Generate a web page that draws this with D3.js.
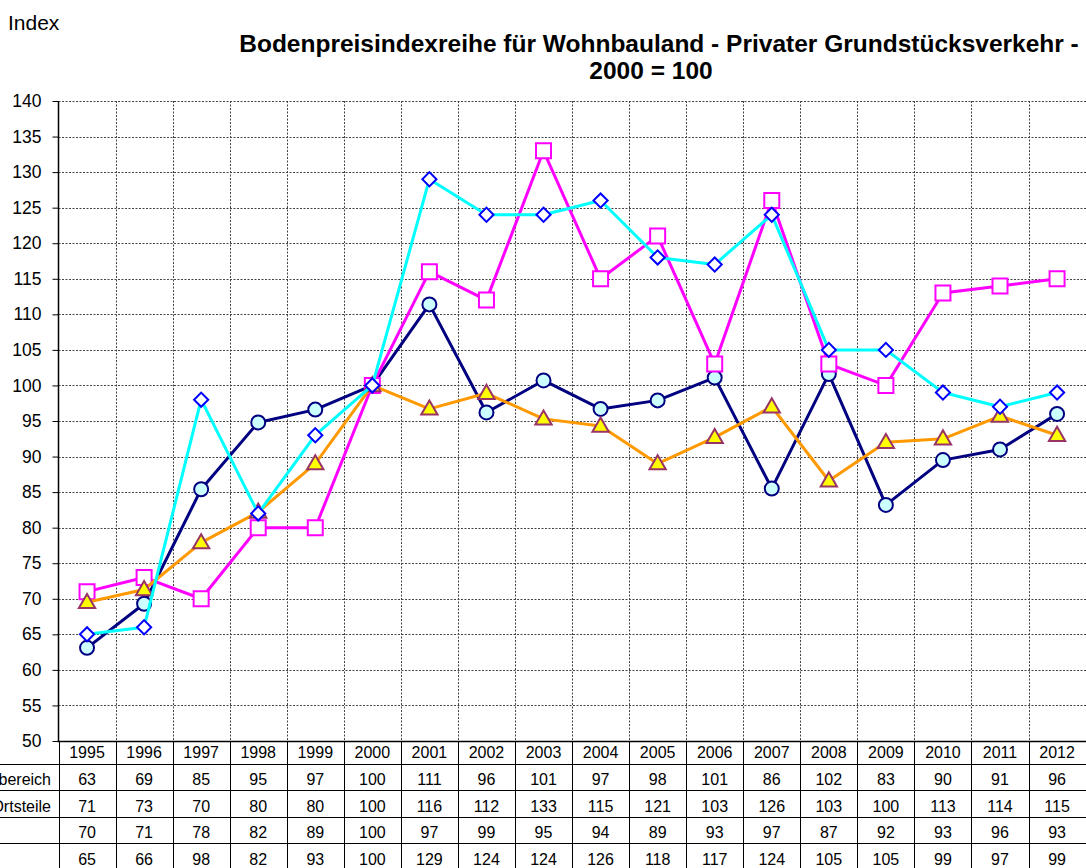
<!DOCTYPE html>
<html lang="de">
<head>
<meta charset="utf-8">
<title>Bodenpreisindexreihe</title>
<script src="https://d3js.org/d3.v7.min.js"></script>
<style>
  body { margin: 0; background: #fff; }
  svg { display: block; font-family: "Liberation Sans", Arial, sans-serif; }
  .cell { font-size: 16px; }
</style>
</head>
<body>
<div id="chart"></div>
<script>
// data
const years = ["1995","1996","1997","1998","1999","2000","2001","2002","2003","2004","2005","2006","2007","2008","2009","2010","2011","2012"];
const gesamt   = [63.1, 69.3, 85.4, 94.8, 96.6, 100, 111.4, 96.2, 100.7, 96.7, 97.9, 101.1, 85.5, 101.6, 83.2, 89.5, 91, 96];
const ortsteile = [71, 73, 70, 80, 80, 100, 116, 112, 133, 115, 121, 103, 126, 103, 100, 113, 114, 115];
const reihe3   = [69.5, 71.3, 77.9, 82.2, 89, 100, 96.7, 98.9, 95.3, 94.3, 89, 92.7, 97, 86.6, 92, 92.5, 95.7, 93];
const reihe4   = [65, 66, 98, 82, 93, 100, 129, 124, 124, 126, 118, 117, 124, 105, 105, 99, 97, 99];
const yTicks = d3.range(50, 141, 5);

const series = [
  {name: "Gesamtbereich", values: gesamt, line: "#000080", marker: "circle", fill: "#CCFFFF", stroke: "#000080"},
  {name: "Ortsteile", values: ortsteile, line: "#FF00FF", marker: "square", fill: "#FFFFFF", stroke: "#FF00FF"},
  {name: "", values: reihe3, line: "#FF9900", marker: "triangle", fill: "#FFFF00", stroke: "#993366"},
  {name: "", values: reihe4, line: "#00FFFF", marker: "diamond", fill: "#FFFFFF", stroke: "#0000FF"}
];

const width = 1086, height = 868;
const plotLeft = 58.5, plotRight = 1085.6, plotTop = 101, plotBottom = 741;
const rowTop = 763.5, rowH = 26.6;

const svg = d3.select("#chart").append("svg")
  .attr("width", width).attr("height", height);

const x = d3.scaleBand().domain(years).range([plotLeft, plotRight]);
const y = d3.scaleLinear().domain([50, 140]).range([plotBottom, plotTop]);
const cx = i => x(years[i]) + x.bandwidth() / 2;

// gridlines
const grid = svg.append("g").attr("stroke", "#444").attr("stroke-dasharray", "2,1.5").attr("stroke-width", 1);
grid.selectAll(".h").data(yTicks.filter(d => d > 50)).join("line")
  .attr("x1", plotLeft).attr("x2", width)
  .attr("y1", d => Math.round(y(d)) + 0.5).attr("y2", d => Math.round(y(d)) + 0.5);
grid.selectAll(".v").data(years.slice(1)).join("line")
  .attr("x1", d => Math.round(x(d)) + 0.5).attr("x2", d => Math.round(x(d)) + 0.5)
  .attr("y1", plotTop).attr("y2", plotBottom);

// y axis
const yAxis = svg.append("g")
  .attr("transform", `translate(${Math.round(plotLeft) - 0.5},0)`)
  .call(d3.axisLeft(y).tickValues(yTicks).tickSize(6).tickPadding(11));
yAxis.select(".domain").attr("stroke", "#000").attr("stroke-width", 1.5).attr("d", `M0,${plotTop}V${plotBottom}`);
yAxis.selectAll(".tick line").attr("stroke", "#000");
yAxis.selectAll(".tick text").attr("font-size", 17.5).attr("fill", "#000")
  .attr("font-family", "Liberation Sans, Arial, sans-serif");

// x axis line
svg.append("line").attr("x1", plotLeft - 1).attr("x2", width)
  .attr("y1", plotBottom + 0.5).attr("y2", plotBottom + 0.5)
  .attr("stroke", "#000").attr("stroke-width", 1.5);

// lines and markers
const line = d3.line().x((d, i) => cx(i)).y(d => y(d));
const symbols = {
  circle: d3.symbol().type(d3.symbolCircle).size(Math.PI * 7 * 7),
  square: d3.symbol().type(d3.symbolSquare).size(15 * 15),
  triangle: d3.symbol().type(d3.symbolTriangle).size(115),
  diamond: d3.symbol().type(d3.symbolSquare).size(10 * 10)
};

series.forEach(s => {
  const g = svg.append("g");
  g.append("path").datum(s.values)
    .attr("d", line).attr("fill", "none")
    .attr("stroke", s.line).attr("stroke-width", 3).attr("stroke-linejoin", "round");
  g.selectAll("path.m").data(s.values).join("path")
    .attr("class", "m")
    .attr("d", symbols[s.marker])
    .attr("transform", (d, i) => {
      if (s.marker === "diamond") return `translate(${cx(i)},${y(d)}) rotate(45)`;
      if (s.marker === "triangle") return `translate(${cx(i)},${y(d) + 1})`;
      return `translate(${cx(i)},${y(d)})`;
    })
    .attr("fill", s.fill).attr("stroke", s.stroke).attr("stroke-width", 2);
});

// data table
const table = svg.append("g");
const rowLines = d3.range(4).map(i => rowTop + i * rowH);
table.selectAll(".hl").data(rowLines).join("line")
  .attr("x1", 0).attr("x2", width)
  .attr("y1", d => Math.round(d) + 0.5).attr("y2", d => Math.round(d) + 0.5)
  .attr("stroke", "#000");
table.selectAll(".vl").data(years).join("line")
  .attr("x1", d => Math.round(x(d)) + 0.5).attr("x2", d => Math.round(x(d)) + 0.5)
  .attr("y1", plotBottom).attr("y2", height)
  .attr("stroke", "#000");
table.selectAll(".yr").data(years).join("text")
  .attr("class", "cell")
  .attr("x", d => x(d) + x.bandwidth() / 2).attr("y", 758)
  .attr("text-anchor", "middle").text(d => d);
series.forEach((s, r) => {
  const ty = rowLines[r] + 21.5;
  table.append("text").attr("class", "cell").attr("x", 51).attr("y", ty)
    .attr("text-anchor", "end").text(s.name);
  table.selectAll(null).data(s.values).join("text")
    .attr("class", "cell")
    .attr("x", (d, i) => cx(i)).attr("y", ty)
    .attr("text-anchor", "middle")
    .text(d => Math.round(d));
});

// titles
svg.append("text").attr("x", 8).attr("y", 30).attr("font-size", 21).text("Index");
const title = svg.append("text").attr("text-anchor", "middle").attr("font-size", 24.5).attr("font-weight", "bold");
title.append("tspan").attr("x", 659).attr("y", 52).text("Bodenpreisindexreihe für Wohnbauland - Privater Grundstücksverkehr -");
title.append("tspan").attr("x", 651).attr("y", 79).text("2000 = 100");
</script>
</body>
</html>
